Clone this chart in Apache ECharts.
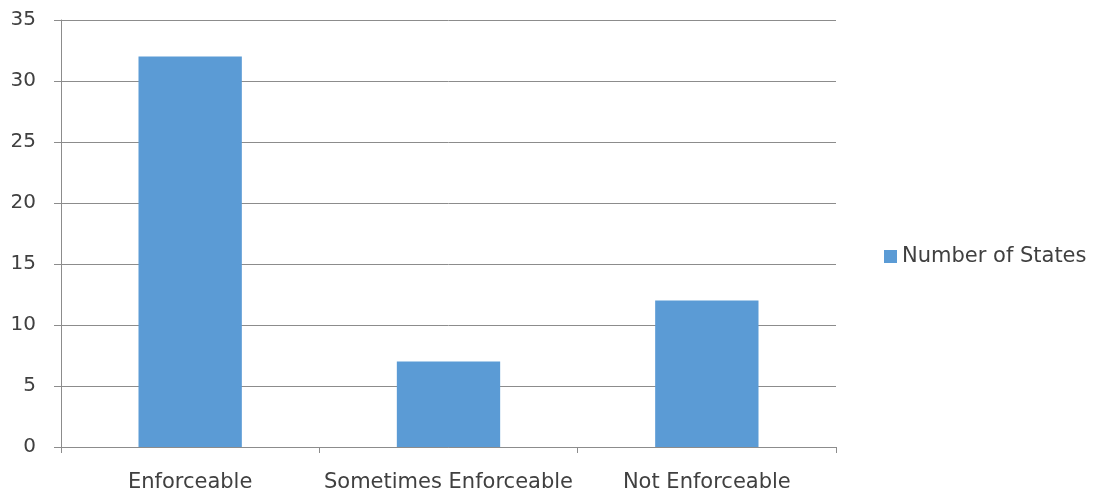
<!DOCTYPE html>
<html>
<head>
<meta charset="utf-8">
<script src="https://cdn.jsdelivr.net/npm/echarts@6/dist/echarts.min.js"></script>
<style>html,body{margin:0;padding:0;background:#fff;}#c{width:1097px;height:495px;}</style>
</head>
<body>
<div id="c"></div>
<script>
const categories = ['Enforceable', 'Sometimes Enforceable', 'Not Enforceable'];
const seriesName = 'Number of States';
const values = [32, 7, 12];

const chart = echarts.init(document.getElementById('c'), null, {renderer: 'canvas'});
const font = 'DejaVu Sans';
chart.setOption({
  animation: false,
  backgroundColor: '#ffffff',
  textStyle: {fontFamily: font},
  grid: {left: 61, right: 261, top: 20, bottom: 48, containLabel: false},
  legend: {
    data: [seriesName],
    left: 879, top: 241,
    itemWidth: 13, itemHeight: 13, itemGap: 5,
    icon: 'rect',
    textStyle: {fontFamily: font, fontSize: 21, color: '#404040', padding: [0, 0, 0, 0]}
  },
  xAxis: {
    type: 'category',
    data: categories,
    axisLine: {lineStyle: {color: '#8c8c8c', width: 1}},
    axisTick: {show: true, length: 6, lineStyle: {color: '#8c8c8c'}},
    axisLabel: {fontFamily: font, fontSize: 21, color: '#404040', margin: 25, interval: 0}
  },
  yAxis: {
    type: 'value',
    min: 0, max: 35, interval: 5,
    axisLine: {show: true, lineStyle: {color: '#8c8c8c', width: 1}},
    axisTick: {show: true, length: 7, lineStyle: {color: '#8c8c8c'}},
    splitLine: {lineStyle: {color: '#8c8c8c', width: 1}},
    axisLabel: {fontFamily: font, fontSize: 20, color: '#404040', margin: 25}
  },
  series: [{
    name: seriesName,
    type: 'bar',
    data: values,
    barWidth: '40%',
    itemStyle: {color: '#5B9BD5'}
  }]
});
</script>
</body>
</html>
